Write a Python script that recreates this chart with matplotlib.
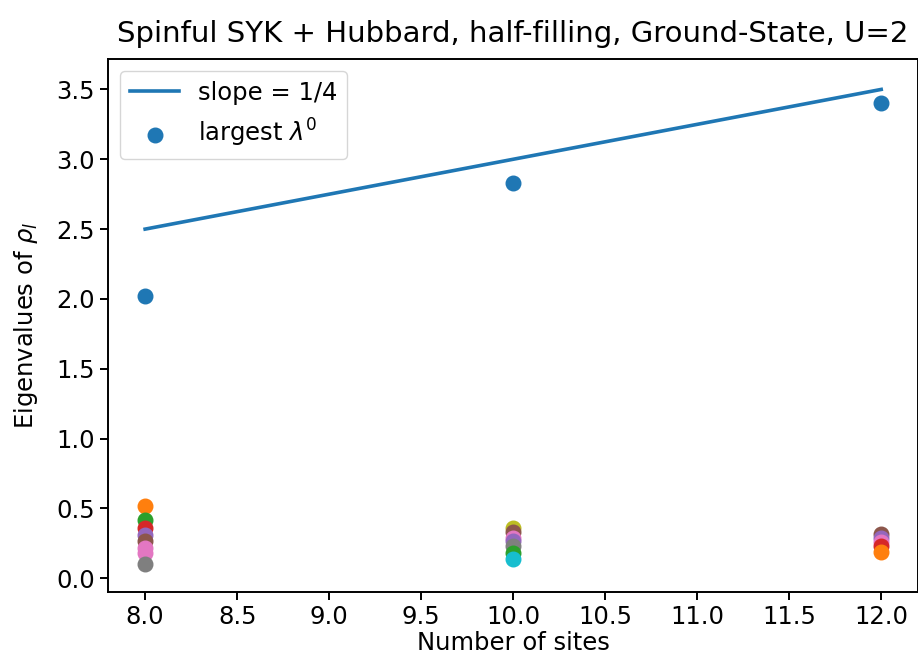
import matplotlib
matplotlib.use('Agg')

import numpy as np
from matplotlib import pyplot as plt


# Numero de sitios
sites = [8, 10, 12]

# Recta de pendiente 1/4
slope_line = [2.5, 3.0, 3.5]

# Mayor autovalor de rho para cada tamaño
largest = [2.02, 2.83, 3.40]

# Resto de autovalores y sus colores, por tamaño
rest_8 = [0.52, 0.42, 0.36, 0.31, 0.27, 0.22, 0.18, 0.10]
rest_8_colors = ['C1', 'C2', 'C3', 'C4', 'C5', 'C6', 'C6', 'C7']

rest_10 = [0.36, 0.33, 0.29, 0.27, 0.23, 0.18, 0.14]
rest_10_colors = ['C8', 'C5', 'C6', 'C4', 'C7', 'C2', 'C9']

rest_12 = [0.32, 0.29, 0.26, 0.23, 0.19]
rest_12_colors = ['C5', 'C4', 'C6', 'C3', 'C1']


# Todo escalado ~1.75 respecto a los valores por defecto
FS = 17.5

fig = plt.figure(figsize=(9.18, 6.67), dpi=100)
ax = fig.add_axes([0.118, 0.112, 0.882, 0.800])

ax.plot(sites, slope_line, linewidth=2.6, label='slope = 1/4')
ax.scatter(sites, largest, s=110, label=r'largest $\lambda^0$')

for n, valores, colores in zip(sites, [rest_8, rest_10, rest_12],
                               [rest_8_colors, rest_10_colors, rest_12_colors]):
    for v, c in zip(valores, colores):
        ax.scatter(n, v, s=110, color=c)

ax.set_xlim(7.8, 12.2)
ax.set_ylim(-0.1, 3.72)
ax.set_xticks(np.arange(8.0, 12.01, 0.5))

ax.tick_params(labelsize=FS, width=1.4, length=6)
for s in ax.spines.values():
    s.set_linewidth(1.4)

ax.set_title('Spinful SYK + Hubbard, half-filling, Ground-State, U=2', fontsize=FS * 1.2, pad=12)
ax.set_xlabel('Number of sites', fontsize=FS, labelpad=1)
ax.set_ylabel(r'Eigenvalues of $\rho_l$', fontsize=FS, labelpad=12)
ax.legend(loc='upper left', fontsize=FS)

plt.savefig('out.png', dpi=100)
